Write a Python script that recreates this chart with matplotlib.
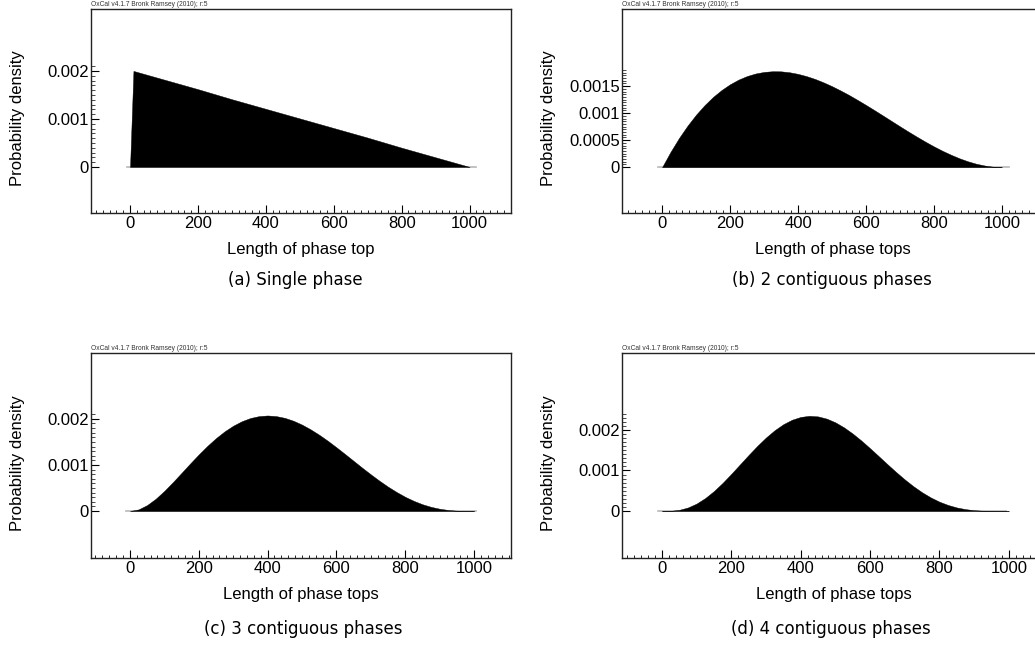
import numpy as np
import matplotlib.pyplot as plt
from matplotlib.ticker import FixedLocator

plt.rcParams['font.family'] = ['Liberation Sans', 'DejaVu Sans']

# values (density per year)
lengths = list(range(0, 1001, 25))

single_x = [0, 10, 100, 200, 300, 400, 500, 600, 700, 800, 900, 1000]
single_y = [0, 0.00200, 0.00182, 0.00162, 0.00141, 0.00121, 0.00101,
            0.00081, 0.00061, 0.00040, 0.00020, 0]

two_y = [0, 0.000285, 0.000542, 0.000770, 0.000972, 0.001148, 0.001301,
         0.001429, 0.001536, 0.001622, 0.001688, 0.001735, 0.001764,
         0.001777, 0.001775, 0.001758, 0.001728, 0.001686, 0.001634,
         0.001571, 0.001500, 0.001421, 0.001337, 0.001246, 0.001152,
         0.001055, 0.000956, 0.000856, 0.000756, 0.000658, 0.000563,
         0.000471, 0.000384, 0.000303, 0.000230, 0.000164, 0.000108,
         0.000062, 0.000029, 0.000007, 0]

three_y = [0, 0.000035, 0.000129, 0.000267, 0.000437, 0.000628, 0.000829,
           0.001032, 0.001229, 0.001414, 0.001582, 0.001729, 0.001852,
           0.001949, 0.002019, 0.002060, 0.002074, 0.002060, 0.002022,
           0.001959, 0.001875, 0.001772, 0.001654, 0.001523, 0.001382,
           0.001236, 0.001087, 0.000938, 0.000794, 0.000656, 0.000527,
           0.000411, 0.000307, 0.000219, 0.000146, 0.000090, 0.000049,
           0.000022, 0.000007, 0.000001, 0]

four_y = [0, 0.000004, 0.000029, 0.000087, 0.000184, 0.000321, 0.000493,
          0.000695, 0.000918, 0.001151, 0.001384, 0.001609, 0.001815,
          0.001995, 0.002143, 0.002253, 0.002322, 0.002350, 0.002335,
          0.002280, 0.002188, 0.002063, 0.001910, 0.001737, 0.001548,
          0.001352, 0.001154, 0.000961, 0.000778, 0.000610, 0.000461,
          0.000334, 0.000229, 0.000148, 0.000087, 0.000046, 0.000020,
          0.000007, 0.000002, 0, 0]

W, H = 1035, 645
fig = plt.figure(figsize=(W / 100, H / 100), dpi=100)
fig.patch.set_facecolor('white')

oxcal = 'OxCal v4.1.7 Bronk Ramsey (2010); r:5'


def draw_panel(box, x, y, base, xlim, ylim, yticks, ylabels, minor_top, minor_step,
               xlabel, caption, cap_xy):
    # box is (left, top, right, bottom) in pixels
    left, top, right, bottom = box
    wpx, hpx = right - left, bottom - top
    ax = fig.add_axes([left / W, 1 - bottom / H, wpx / W, hpx / H])
    ax.plot(base, [0, 0], color='#b8b8b8', lw=1.2, zorder=1)
    ax.fill_between(x, y, 0, color='black', lw=0.3, edgecolor='black', zorder=2)
    ax.set_xlim(*xlim)
    ax.set_ylim(*ylim)

    ax.set_xticks([0, 200, 400, 600, 800, 1000])
    ax.xaxis.set_minor_locator(FixedLocator(np.arange(-100, 1101, 20)))
    ax.set_yticks(yticks)
    ax.set_yticklabels(ylabels)
    ax.yaxis.set_minor_locator(FixedLocator(np.arange(0, minor_top + 1e-9, minor_step)))

    ax.tick_params(axis='x', which='major', direction='in', length=6, width=0.8,
                   pad=2, labelsize=12)
    ax.tick_params(axis='x', which='minor', direction='in', length=2.5, width=0.6)
    ax.tick_params(axis='y', which='major', direction='in', length=5.5, width=0.8,
                   pad=1.5, labelsize=12)
    ax.tick_params(axis='y', which='minor', direction='in', length=3, width=0.5)
    for s in ax.spines.values():
        s.set_color('#222222')
        s.set_linewidth(1.0)

    ax.set_xlabel(xlabel, fontsize=12)
    ax.xaxis.set_label_coords(0.5, -29 / hpx)
    ax.set_ylabel('Probability density', fontsize=12)
    ax.yaxis.set_label_coords(-66 / wpx, 0.463)

    ax.text(0, 1.004, oxcal, transform=ax.transAxes, fontsize=4.8,
            va='bottom', ha='left', color='#333333')
    fig.text(cap_xy[0] / W, 1 - cap_xy[1] / H, caption, fontsize=12,
             ha='center', va='center', family=['DejaVu Sans'])
    return ax


draw_panel((91, 9, 511, 213), single_x, single_y, [-10, 1020],
           (-115, 1122), (-0.00096, 0.00329),
           [0, 0.001, 0.002], ['0', '0.001', '0.002'], 0.0021, 0.0001,
           'Length of phase top', '(a) Single phase', (295, 280))

draw_panel((622, 9, 1044, 213), lengths, two_y, [-12, 1020],
           (-118, 1124), (-0.00085, 0.00293),
           [0, 0.0005, 0.001, 0.0015], ['0', '0.0005', '0.001', '0.0015'],
           0.0018, 0.00005,
           'Length of phase tops', '(b) 2 contiguous phases', (832, 280))

draw_panel((91, 353, 511, 558), lengths, three_y, [-12, 1005],
           (-113, 1107), (-0.00102, 0.00343),
           [0, 0.001, 0.002], ['0', '0.001', '0.002'], 0.0021, 0.0001,
           'Length of phase tops', '(c) 3 contiguous phases', (303, 629))

draw_panel((622, 353, 1046, 558), lengths, four_y, [-12, 993],
           (-115, 1107), (-0.00116, 0.0039),
           [0, 0.001, 0.002], ['0', '0.001', '0.002'], 0.0024, 0.0001,
           'Length of phase tops', '(d) 4 contiguous phases', (831, 629))

fig.savefig('out.png', dpi=100, facecolor='white')
